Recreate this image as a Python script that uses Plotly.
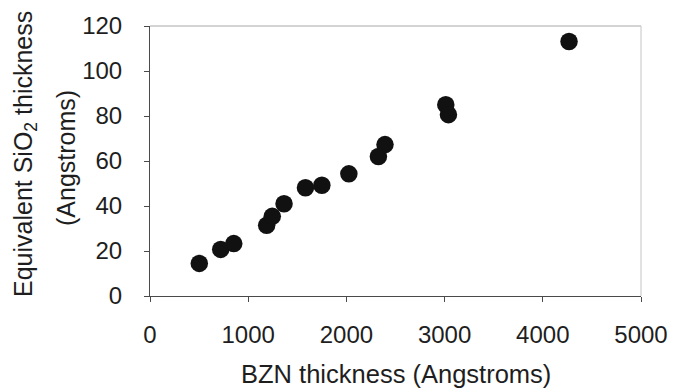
import plotly.graph_objects as go

# BZN film thickness vs. equivalent SiO2 thickness (both in Angstroms)
bzn_thickness = [502, 720, 853, 1188, 1245, 1365, 1583, 1750, 2025, 2326, 2393, 3012, 3039, 4267]
sio2_equiv = [14.5, 20.7, 23.3, 31.4, 35.4, 41.0, 48.1, 49.2, 54.3, 62.0, 67.3, 85.0, 80.6, 113.1]

x_ticks = [0, 1000, 2000, 3000, 4000, 5000]
y_ticks = [0, 20, 40, 60, 80, 100, 120]

FONT = "Liberation Sans, Arial, sans-serif"
TEXT = "#1e1e1e"
AXIS = "#4a4a4a"

fig = go.Figure()
fig.add_trace(go.Scatter(
    x=bzn_thickness, y=sio2_equiv, mode="markers",
    marker=dict(size=17.5, color="#111111", line=dict(width=0)),
    showlegend=False, cliponaxis=False,
))

fig.update_layout(
    width=680, height=390,
    margin=dict(l=150, r=32, t=26, b=94),
    paper_bgcolor="white", plot_bgcolor="white",
    font=dict(family=FONT, color=TEXT, size=24),
    xaxis=dict(
        range=[0, 5000], tickvals=x_ticks, ticktext=[str(v) for v in x_ticks],
        showgrid=False, zeroline=False, showline=True, linecolor=AXIS, linewidth=1,
        ticks="outside", ticklen=5, tickcolor=AXIS, tickfont=dict(size=24),
        ticklabelstandoff=12,
    ),
    yaxis=dict(
        range=[0, 120], tickvals=y_ticks, ticktext=[str(v) for v in y_ticks],
        showgrid=False, zeroline=False, showline=True, linecolor=AXIS, linewidth=1,
        ticks="outside", ticklen=5, tickcolor=AXIS, tickfont=dict(size=24),
        ticklabelstandoff=17,
    ),
    shapes=[
        # light frame along the top and right of the plotting area
        dict(type="line", xref="paper", yref="paper", x0=0, x1=1, y0=1, y1=1,
             line=dict(color="#a8a8a8", width=1)),
        dict(type="line", xref="paper", yref="paper", x0=1, x1=1, y0=0, y1=1,
             line=dict(color="#c4c4c4", width=1)),
    ],
    annotations=[
        dict(text="BZN thickness (Angstroms)", xref="paper", yref="paper",
             x=0.5, y=0, yshift=-78, xanchor="center", yanchor="middle",
             showarrow=False, font=dict(size=25.5)),
        dict(text="Equivalent SiO<sub>2</sub> thickness", xref="paper", yref="paper",
             x=0, xshift=-125, y=0.5, yshift=7, textangle=-90,
             xanchor="center", yanchor="middle", showarrow=False, font=dict(size=25)),
        dict(text="(Angstroms)", xref="paper", yref="paper",
             x=0, xshift=-84, y=0.5, yshift=3, textangle=-90,
             xanchor="center", yanchor="middle", showarrow=False, font=dict(size=25)),
    ],
)

fig.write_html("out.html")
